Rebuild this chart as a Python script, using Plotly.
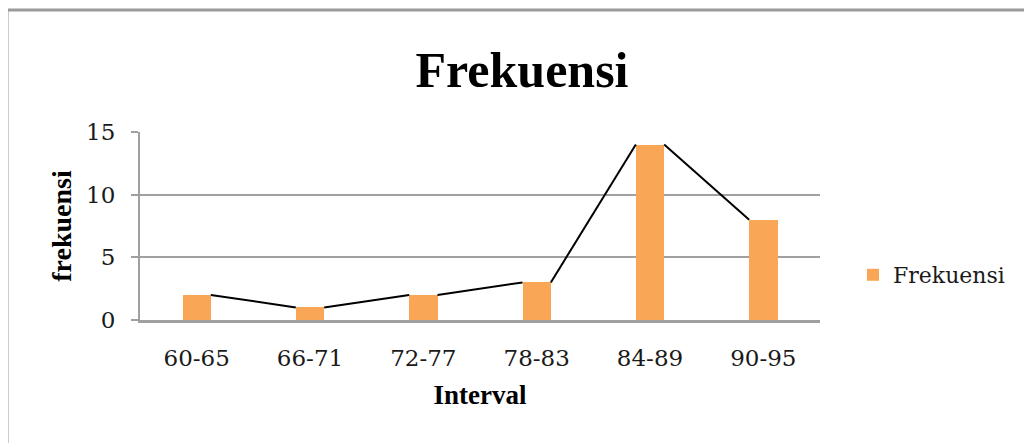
import plotly.graph_objects as go

categories = ["60-65", "66-71", "72-77", "78-83", "84-89", "90-95"]
frekuensi = [2, 1, 2, 3, 14, 8]
y_ticks = [0, 5, 10, 15]

BAR_W = 0.25
idx = list(range(len(categories)))

# Series lines: connect top-right corner of each bar to top-left corner of the next
line_x, line_y = [], []
for i in range(len(frekuensi) - 1):
    line_x += [i + BAR_W / 2, i + 1 - BAR_W / 2, None]
    line_y += [frekuensi[i], frekuensi[i + 1], None]

fig = go.Figure()
fig.add_trace(go.Bar(
    x=idx, y=frekuensi, width=BAR_W, name="Frekuensi",
    marker=dict(color="#F9A657", line=dict(width=0)),
    showlegend=True,
))
fig.add_trace(go.Scatter(
    x=line_x, y=line_y, mode="lines",
    line=dict(color="#000000", width=2),
    showlegend=False, hoverinfo="skip",
))

OFF = 8  # default page body margin
W, H = 1032 - OFF, 443 - OFF
L, R, T, B = 140 - OFF, 212, 132 - OFF, 123
pw, ph = W - L - R, H - T - B

def px_to_paper_x(px):  # px = page pixel
    return (px - OFF - L) / pw

def px_to_paper_y(py):
    return (H - B - (py - OFF)) / ph

# outer chart frame
fig.add_shape(type="rect", xref="paper", yref="paper",
              x0=px_to_paper_x(7), x1=px_to_paper_x(1060),
              y0=px_to_paper_y(470), y1=px_to_paper_y(10),
              line=dict(color="#9A9A9A", width=3), fillcolor="rgba(0,0,0,0)", layer="below")

fig.update_layout(
    width=W, height=H,
    margin=dict(l=L, r=R, t=T, b=B, pad=0),
    paper_bgcolor="white", plot_bgcolor="white",
    font=dict(family="DejaVu Serif", color="#1a1a1a"),
    title=dict(text="<b>Frekuensi</b>", x=(522 - OFF) / W, xref="container", xanchor="center",
               y=1 - (69 - OFF) / H, yref="container", yanchor="middle",
               font=dict(family="Liberation Serif", size=50, color="#000000")),
    bargap=0,
    legend=dict(x=px_to_paper_x(853), xanchor="left", y=px_to_paper_y(275), yanchor="middle",
                font=dict(family="DejaVu Serif", size=22, color="#1a1a1a"),
                bgcolor="rgba(0,0,0,0)"),
    xaxis=dict(
        range=[-0.5, len(categories) - 0.5],
        tickmode="array", tickvals=idx, ticktext=categories,
        showgrid=False, zeroline=False,
        showline=True, linecolor="#A0A0A0", linewidth=3,
        ticks="", ticklabelstandoff=15,
        tickfont=dict(family="DejaVu Serif", size=23, color="#1a1a1a"),
        title=dict(text="<b>Interval</b>", standoff=16,
                   font=dict(family="Liberation Serif", size=27, color="#000000")),
    ),
    yaxis=dict(
        range=[0, 15],
        tickmode="array", tickvals=y_ticks,
        showgrid=True, gridcolor="#A0A0A0", gridwidth=2,
        zeroline=False,
        showline=True, linecolor="#A0A0A0", linewidth=2,
        ticks="outside", ticklen=7, tickcolor="#A0A0A0", tickwidth=2,
        ticklabelstandoff=11,
        tickfont=dict(family="DejaVu Serif", size=23, color="#1a1a1a"),
        title=dict(text="<b>frekuensi</b>", standoff=6,
                   font=dict(family="Liberation Serif", size=28, color="#000000")),
    ),
)

fig.write_html("out.html")
